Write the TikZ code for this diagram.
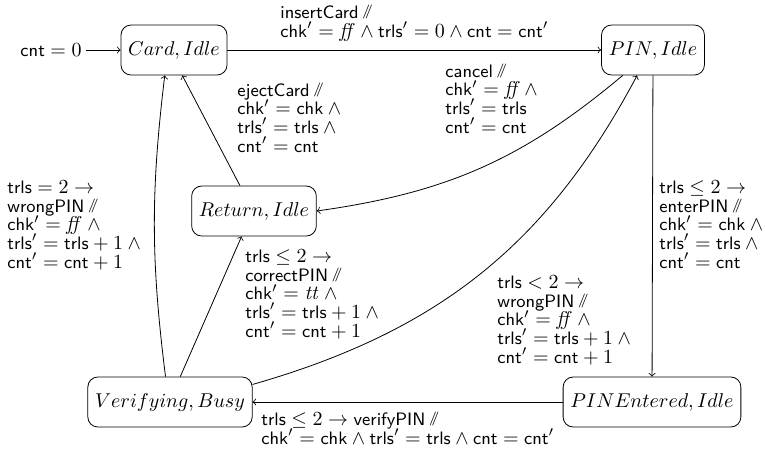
\documentclass[tikz,border=0pt]{standalone}
\usepackage{amsmath}
\newcommand{\dsl}{\text{\raisebox{1.5pt}{\fontsize{7.5}{8}\selectfont$/\mkern-6mu/$}}}
\newcommand{\vs}[1]{\text{\fontsize{9}{9}\selectfont\sffamily #1}}
\newcommand{\vff}{\mathit{ff}}
\newcommand{\vtt}{\mathit{tt}}
\begin{document}
\begin{tikzpicture}[x=0.5pt,y=-0.5pt,
  state/.style={draw,rounded corners=5pt,minimum height=25pt,inner xsep=3.6pt,inner ysep=3pt,font=\fontsize{9.7}{11}\selectfont},
  lbl/.style={anchor=base west,inner sep=0pt,align=left,font={\fontsize{10}{9.3}\selectfont\lineskiplimit=-20pt}},
  tr/.style={->}]
\useasboundingbox (0,0) rectangle (765,452);
\node[state] (card) at (174,50) {$Card, Idle$};
\node[state] (pin) at (653,50) {$PIN, Idle$};
\node[state] (ret) at (254,211) {$Return, Idle$};
\node[state] (ver) at (170,402) {$Verifying, Busy$};
\node[state] (pe) at (652,402) {$PINEntered, Idle$};
\node[anchor=east,inner sep=2pt] (init) at (86,50) {$\vs{cnt} = 0$};

\draw[tr] (init) -- (card);
\draw[tr] (card) -- (pin);
\draw[tr] (pin.-140) to[out=220,in=8] (ret.east);
\draw[tr] (ret.119) -- (card.-72);
\draw[tr] (pin) -- (pe);
\draw[tr] (pe) -- (ver);
\draw[tr] (ver.68) -- (ret.-116);
\draw[tr] (ver.100) to[bend left=7] (card.-110);
\draw[tr] (ver.12) to[out=16,in=-118] (pin.-122);

% anchors: base west = baseline of the last line
\node[lbl] (l1) at (280,37) {$\vs{insertCard}\,\dsl$\\ $\vs{chk}' = \vff \wedge \vs{trls}' = 0 \wedge \vs{cnt} = \vs{cnt}'$};
\node[lbl] (l2) at (445,133) {$\vs{cancel}\,\dsl$\\ $\vs{chk}' = \vff\,\wedge$\\ $\vs{trls}' = \vs{trls}$\\ $\vs{cnt}' = \vs{cnt}$};
\node[lbl] (l3) at (237,152) {$\vs{ejectCard}\,\dsl$\\ $\vs{chk}' = \vs{chk} \wedge{}$\\ $\vs{trls}' = \vs{trls} \wedge{}$\\ $\vs{cnt}' = \vs{cnt}$};
\node[lbl] (l4) at (7,268) {$\vs{trls} = 2 \to$\\ $\vs{wrongPIN}\,\dsl$\\ $\vs{chk}' = \vff \wedge{}$\\ $\vs{trls}' = \vs{trls} + 1 \wedge{}$\\ $\vs{cnt}' = \vs{cnt} + 1$};
\node[lbl] (l5) at (245,337) {$\vs{trls} \le 2 \to$\\ $\vs{correctPIN}\,\dsl$\\ $\vs{chk}' = \vtt \wedge{}$\\ $\vs{trls}' = \vs{trls} + 1 \wedge{}$\\ $\vs{cnt}' = \vs{cnt} + 1$};
\node[lbl] (l6) at (659,268) {$\vs{trls} \le 2 \to$\\ $\vs{enterPIN}\,\dsl$\\ $\vs{chk}' = \vs{chk} \wedge{}$\\ $\vs{trls}' = \vs{trls} \wedge{}$\\ $\vs{cnt}' = \vs{cnt}$};
\node[lbl] (l7) at (497,363) {$\vs{trls} < 2 \to$\\ $\vs{wrongPIN}\,\dsl$\\ $\vs{chk}' = \vff \wedge{}$\\ $\vs{trls}' = \vs{trls} + 1 \wedge{}$\\ $\vs{cnt}' = \vs{cnt} + 1$};
\node[lbl] (l8) at (261,444) {$\vs{trls} \le 2 \to \vs{verifyPIN}\,\dsl$\\ $\vs{chk}' = \vs{chk} \wedge \vs{trls}' = \vs{trls} \wedge \vs{cnt} = \vs{cnt}'$};
\end{tikzpicture}
\end{document}
